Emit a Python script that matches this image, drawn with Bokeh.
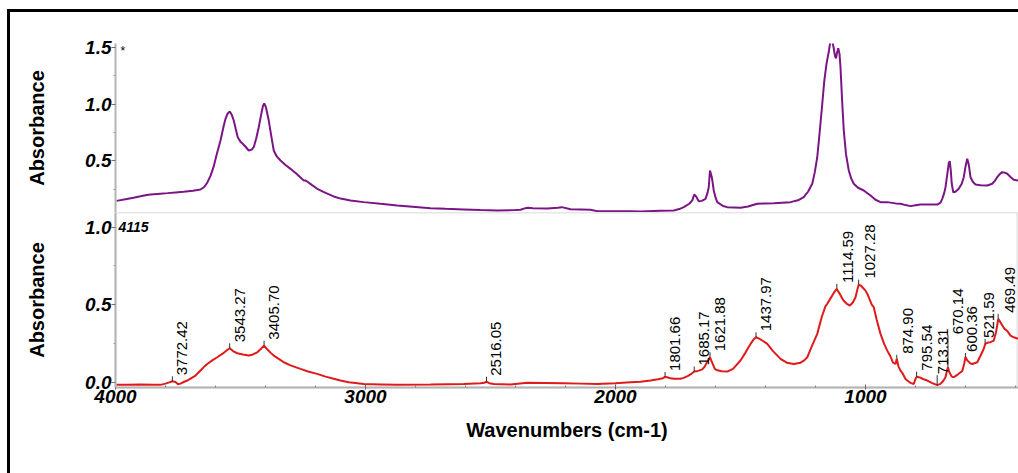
import numpy as np
from bokeh.plotting import figure
from bokeh.models import Range1d, FixedTicker, PrintfTickFormatter, ColumnDataSource
from bokeh.layouts import column
from bokeh.embed import file_html
from bokeh.resources import INLINE
from bokeh.core.properties import value

# ---------------- data ----------------
top_wn = [3996, 3960, 3928, 3900, 3880, 3860, 3820, 3792, 3760, 3728, 3690, 3660, 3645, 3632,
          3620, 3608, 3595, 3580, 3568, 3560, 3552, 3543, 3535, 3527, 3519, 3511, 3500, 3493,
          3480, 3467, 3455, 3447, 3437, 3427, 3418, 3410, 3405, 3398, 3387, 3377, 3367, 3355,
          3340, 3320, 3300, 3275, 3247, 3240, 3232, 3215, 3193, 3160, 3127, 3100, 3060, 3007,
          2940, 2873, 2800, 2740, 2680, 2607, 2540, 2473, 2400, 2380, 2360, 2350, 2330, 2273,
          2230, 2215, 2180, 2100, 2073, 2000, 1940, 1900, 1820, 1767, 1745, 1727, 1705, 1693,
          1685, 1678, 1667, 1655, 1640, 1632, 1627, 1622, 1614, 1607, 1600, 1593, 1570, 1553,
          1500, 1470, 1433, 1400, 1367, 1300, 1270, 1247, 1230, 1213, 1203, 1193, 1183, 1173,
          1165, 1156, 1146, 1140, 1134, 1128, 1122, 1118, 1114, 1109, 1104, 1100, 1094, 1087,
          1078, 1067, 1057, 1047, 1030, 1007, 980, 960, 940, 913, 880, 860, 840, 820, 800, 780,
          750, 713, 700, 693, 685, 680, 673, 667, 663, 659, 655, 649, 640, 627, 615, 607, 600,
          593, 587, 580, 570, 560, 540, 513, 493, 483, 473, 463, 453, 443, 433, 420, 407, 389]
top_abs = [0.150, 0.165, 0.177, 0.190, 0.200, 0.206, 0.213, 0.218, 0.224, 0.230, 0.238, 0.250,
           0.272, 0.314, 0.370, 0.446, 0.560, 0.680, 0.800, 0.870, 0.915, 0.934, 0.905, 0.855,
           0.780, 0.709, 0.668, 0.656, 0.625, 0.592, 0.600, 0.621, 0.700, 0.796, 0.900, 0.985,
           1.005, 0.970, 0.855, 0.720, 0.592, 0.540, 0.504, 0.465, 0.431, 0.385, 0.329, 0.328,
           0.318, 0.290, 0.256, 0.220, 0.189, 0.170, 0.154, 0.139, 0.124, 0.110, 0.097, 0.086,
           0.080, 0.075, 0.070, 0.066, 0.069, 0.072, 0.086, 0.089, 0.085, 0.083, 0.090, 0.095,
           0.077, 0.072, 0.060, 0.060, 0.060, 0.057, 0.063, 0.066, 0.078, 0.095, 0.125, 0.154,
           0.206, 0.190, 0.147, 0.150, 0.168, 0.220, 0.270, 0.417, 0.350, 0.241, 0.180, 0.139,
           0.105, 0.095, 0.089, 0.100, 0.125, 0.128, 0.130, 0.139, 0.155, 0.182, 0.230, 0.300,
           0.400, 0.533, 0.760, 1.000, 1.200, 1.352, 1.470, 1.560, 1.560, 1.500, 1.420, 1.400,
           1.450, 1.490, 1.440, 1.320, 1.050, 0.770, 0.560, 0.417, 0.345, 0.300, 0.265, 0.241,
           0.197, 0.160, 0.139, 0.139, 0.128, 0.125, 0.113, 0.104, 0.112, 0.118, 0.118, 0.118,
           0.135, 0.168, 0.220, 0.270, 0.380, 0.480, 0.498, 0.420, 0.300, 0.226, 0.230, 0.256,
           0.300, 0.358, 0.450, 0.519, 0.470, 0.358, 0.315, 0.294, 0.288, 0.285, 0.300, 0.325,
           0.358, 0.385, 0.402, 0.398, 0.388, 0.360, 0.335, 0.329]

bot_wn = [3996, 3950, 3900, 3850, 3820, 3800, 3785, 3772, 3760, 3750, 3740, 3725, 3713, 3700,
          3680, 3660, 3645, 3633, 3613, 3593, 3570, 3555, 3543, 3530, 3513, 3490, 3467, 3450,
          3433, 3418, 3406, 3395, 3380, 3367, 3347, 3327, 3300, 3260, 3230, 3193, 3160, 3127,
          3100, 3067, 3007, 2940, 2873, 2740, 2607, 2540, 2525, 2516, 2505, 2487, 2420, 2353,
          2280, 2207, 2140, 2073, 2000, 1940, 1900, 1860, 1830, 1810, 1802, 1793, 1780, 1767,
          1740, 1727, 1710, 1695, 1685, 1670, 1655, 1645, 1635, 1622, 1612, 1603, 1593, 1575,
          1553, 1530, 1500, 1480, 1460, 1445, 1438, 1425, 1410, 1393, 1370, 1340, 1315, 1287,
          1260, 1245, 1233, 1215, 1193, 1175, 1160, 1153, 1140, 1127, 1115, 1105, 1095, 1087,
          1075, 1062, 1050, 1040, 1032, 1027, 1017, 1000, 990, 975, 967, 955, 940, 925, 913,
          900, 890, 880, 875, 868, 860, 853, 840, 833, 820, 807, 800, 795, 783, 770, 753, 735,
          713, 700, 690, 680, 674, 670, 665, 655, 647, 630, 613, 605, 600, 593, 580, 573, 553,
          540, 527, 521, 510, 500, 487, 478, 469, 460, 445, 433, 420, 407, 389]
bot_abs = [-0.018, -0.017, -0.016, -0.018, -0.018, -0.010, -0.002, 0.005, 0.000, -0.014, -0.010,
           0.002, 0.010, 0.022, 0.042, 0.075, 0.100, 0.117, 0.140, 0.160, 0.185, 0.205, 0.218,
           0.200, 0.186, 0.178, 0.171, 0.178, 0.192, 0.215, 0.235, 0.215, 0.190, 0.171, 0.150,
           0.128, 0.108, 0.085, 0.068, 0.053, 0.035, 0.021, 0.010, -0.001, -0.012, -0.015,
           -0.018, -0.016, -0.012, -0.008, -0.005, 0.002, -0.007, -0.012, -0.016, -0.005,
           -0.006, -0.008, -0.010, -0.012, -0.008, -0.001, 0.002, 0.010, 0.018, 0.025, 0.033,
           0.031, 0.024, 0.021, 0.022, 0.027, 0.040, 0.055, 0.068, 0.072, 0.080, 0.095, 0.125,
           0.160, 0.120, 0.085, 0.076, 0.070, 0.068, 0.085, 0.139, 0.190, 0.246, 0.280, 0.289,
           0.280, 0.265, 0.246, 0.200, 0.150, 0.125, 0.117, 0.125, 0.140, 0.160, 0.230, 0.311,
           0.420, 0.490, 0.505, 0.540, 0.575, 0.601, 0.575, 0.545, 0.525, 0.505, 0.494, 0.515,
           0.547, 0.600, 0.629, 0.620, 0.590, 0.560, 0.500, 0.483, 0.400, 0.311, 0.245, 0.203,
           0.165, 0.125, 0.117, 0.150, 0.100, 0.074, 0.060, 0.020, 0.010, -0.005, -0.012,
           0.020, 0.035, 0.030, 0.020, 0.010, -0.005, -0.020, -0.012, 0.005, 0.031, 0.075,
           0.095, 0.065, 0.035, 0.031, 0.050, 0.072, 0.120, 0.162, 0.140, 0.120, 0.117, 0.128,
           0.170, 0.215, 0.246, 0.255, 0.257, 0.268, 0.320, 0.408, 0.385, 0.345, 0.330, 0.300,
           0.289, 0.279]

peak_wn = [3772.42, 3543.27, 3405.70, 2516.05, 1801.66, 1685.17, 1621.88, 1437.97, 1114.59,
           1027.28, 874.90, 795.54, 713.31, 670.14, 600.36, 521.59, 469.49]
peak_abs = [0.005, 0.218, 0.235, 0.002, 0.033, 0.068, 0.160, 0.289, 0.601, 0.629, 0.150,
            0.035, -0.020, 0.095, 0.162, 0.246, 0.408]
peak_text = ["%.2f" % w for w in peak_wn]

x_major_ticks = [4000, 3000, 2000, 1000]
x_minor_ticks = [3800, 3600, 3400, 3200, 2800, 2600, 2400, 2200, 1800, 1600, 1400, 1200,
                 800, 600, 400]
top_y_ticks = [0.5, 1.0, 1.5]
bot_y_ticks = [0.0, 0.5, 1.0]
y_minor_ticks = [0.25, 0.75, 1.25]

# ---------------- styling (pixels) ----------------
FONT = "Liberation Sans"
PURPLE = "#7b1585"
RED = "#e01a1a"
AXIS_GRAY = "#b4b4b4"
leader_len = [5, 5, 5, 5, 5, 5, 5, 5, 5, 5, 4, 5, 10, 32, 4, 5, 5]
label_dx = [10, 10, 10, 10, 10, 10, 10, 10, 11, 11, 11, 10, 6, 10, 7, 4, 12]

xr = Range1d(4000, 388)


def style_y(p, ticks):
    ax = p.yaxis[0]
    ax.ticker = FixedTicker(ticks=ticks, minor_ticks=y_minor_ticks)
    ax.formatter = PrintfTickFormatter(format="%.1f")
    ax.axis_label = "Absorbance"
    ax.axis_label_text_font = FONT
    ax.axis_label_text_font_size = "20px"
    ax.axis_label_text_font_style = "bold"
    ax.axis_label_text_color = "black"
    ax.axis_label_standoff = 34
    ax.major_label_text_font = FONT
    ax.major_label_text_font_size = "19px"
    ax.major_label_text_font_style = "bold italic"
    ax.major_label_text_color = "black"
    ax.major_label_standoff = 0
    ax.axis_line_color = AXIS_GRAY
    ax.axis_line_width = 2
    ax.major_tick_in = 0
    ax.major_tick_out = 4
    ax.major_tick_line_color = "#707070"
    ax.minor_tick_in = 0
    ax.minor_tick_out = 2
    ax.minor_tick_line_color = "#a0a0a0"


top = figure(width=1008, height=200, x_range=xr, y_range=Range1d(0.048, 1.531),
             x_axis_location=None, output_backend="svg", toolbar_location=None,
             min_border_left=105, min_border_right=0, min_border_top=31, min_border_bottom=0,
             outline_line_color=None)
top.grid.visible = False
style_y(top, top_y_ticks)
top.line(top_wn, top_abs, color=PURPLE, line_width=2)
top.text(x=[4000], y=[1.5], text=["*"], x_offset=5, y_offset=4,
         text_font=value(FONT), text_font_size="12px", text_baseline="middle",
         text_align="left", text_color="black")

bot = figure(width=1008, height=261, x_range=xr, y_range=Range1d(-0.035, 1.094),
             output_backend="svg", toolbar_location=None,
             min_border_left=105, min_border_right=0, min_border_top=0, min_border_bottom=86,
             outline_line_color="#e6e6e6", outline_line_width=2)
bot.grid.visible = False
style_y(bot, bot_y_ticks)
xa = bot.xaxis[0]
xa.ticker = FixedTicker(ticks=x_major_ticks, minor_ticks=x_minor_ticks)
xa.axis_label = "Wavenumbers (cm-1)"
xa.axis_label_text_font = FONT
xa.axis_label_text_font_size = "20px"
xa.axis_label_text_font_style = "bold"
xa.axis_label_text_color = "black"
xa.axis_label_standoff = 13
xa.major_label_text_font = FONT
xa.major_label_text_font_size = "19px"
xa.major_label_text_font_style = "bold italic"
xa.major_label_text_color = "black"
xa.major_label_standoff = 0
xa.axis_line_color = AXIS_GRAY
xa.axis_line_width = 2
xa.major_tick_in = 3
xa.major_tick_out = 2
xa.major_tick_line_color = "#606060"
xa.minor_tick_in = 2
xa.minor_tick_out = 0
xa.minor_tick_line_color = "#808080"

bot.line(bot_wn, bot_abs, color=RED, line_width=2)

src = ColumnDataSource(dict(x=peak_wn, y=peak_abs, text=peak_text, lead=leader_len,
                            xoff=label_dx, yoff=[-(l + 1) for l in leader_len]))
bot.ray(x="x", y="y", length="lead", length_units="screen", angle=np.pi / 2,
        line_color="#303030", line_width=1, source=src)
bot.text(x="x", y="y", text="text", angle=np.pi / 2, x_offset="xoff", y_offset="yoff",
         text_align="left", text_baseline="middle", text_font=value(FONT),
         text_font_size="15px", text_color="black", source=src)
bot.text(x=[4000], y=[1.0], text=["4115"], x_offset=3, text_baseline="middle",
         text_align="left", text_font=value(FONT), text_font_size="14px",
         text_font_style="bold italic", text_color="black")

layout = column(top, bot, styles={"margin-left": "7px", "margin-top": "9px",
                                  "border-top": "3px solid black",
                                  "border-left": "3px solid black"})

open("out.html", "w").write(file_html(layout, INLINE))
